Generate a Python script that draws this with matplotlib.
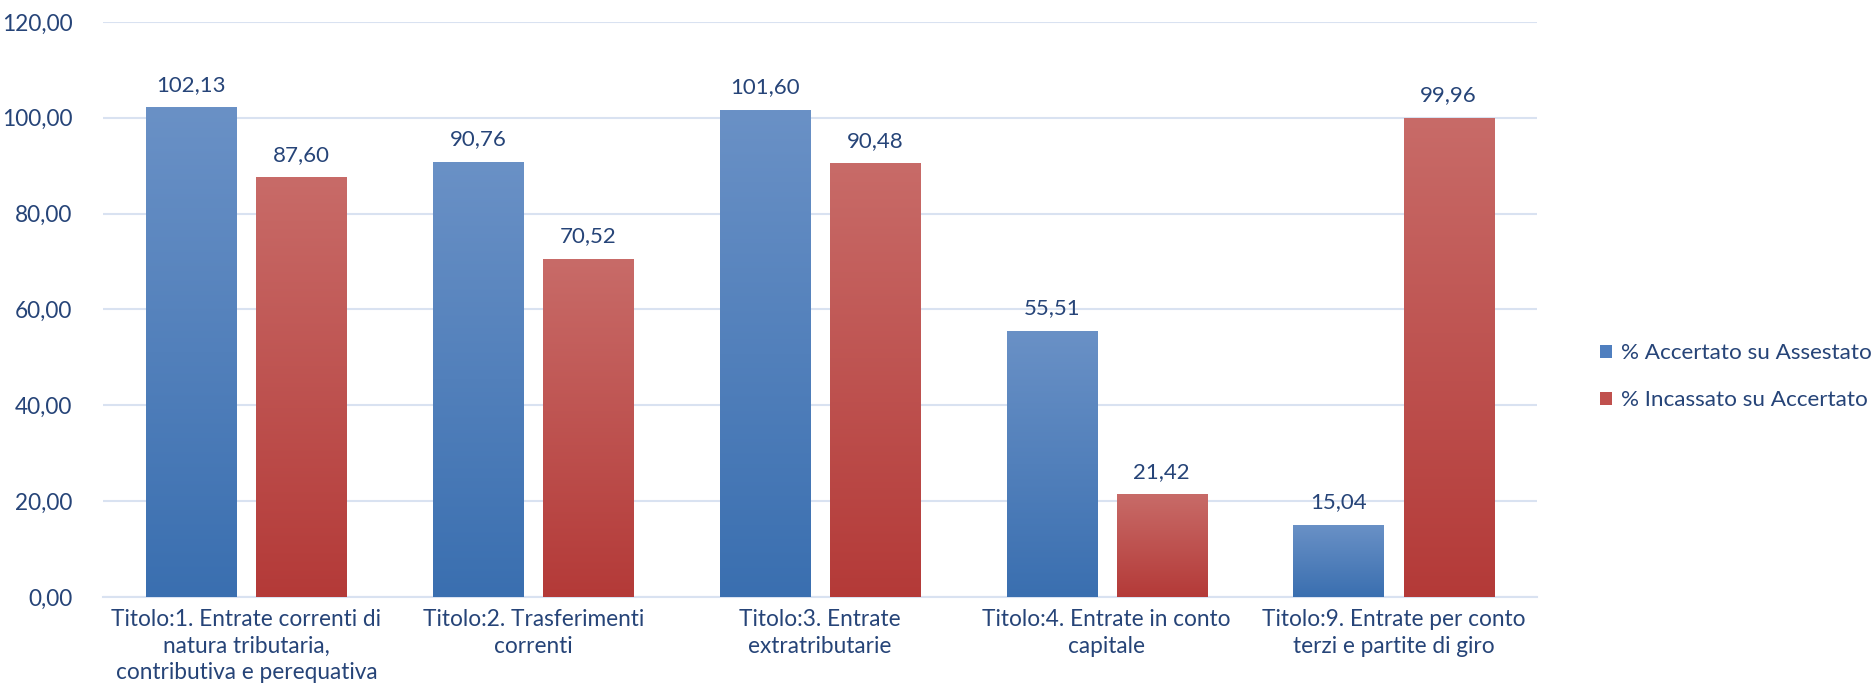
import matplotlib
matplotlib.use("Agg")
import matplotlib.pyplot as plt
import numpy as np
from matplotlib.colors import LinearSegmentedColormap
from matplotlib.patches import Patch

plt.rcParams['font.family'] = ['Lato', 'DejaVu Sans']

categories = [
    "Titolo:1. Entrate correnti di\nnatura tributaria,\ncontributiva e perequativa",
    "Titolo:2. Trasferimenti\ncorrenti",
    "Titolo:3. Entrate\nextratributarie",
    "Titolo:4. Entrate in conto\ncapitale",
    "Titolo:9. Entrate per conto\nterzi e partite di giro",
]
accertato = [102.13, 90.76, 101.60, 55.51, 15.04]
incassato = [87.60, 70.52, 90.48, 21.42, 99.96]
series_names = ["% Accertato su Assestato", "% Incassato su Accertato"]

text_color = "#264478"
grid_color = "#D9E2F1"
blue_top, blue_bot = "#6A91C6", "#3A6FB0"
red_top, red_bot = "#C86B68", "#B43A38"

fig = plt.figure(figsize=(18.72, 6.98), dpi=100)
ax = fig.add_axes([0.055, 0.1447, 0.766, 0.824])

x = np.arange(len(categories))
w = 0.314
off = 0.192

def gradient_bars(xs, vals, top, bot):
    bars = ax.bar(xs, vals, width=w, color="none", edgecolor="none", zorder=3)
    cmap = LinearSegmentedColormap.from_list("g", [bot, top])
    grad = np.linspace(0, 1, 256).reshape(-1, 1)
    for b in bars:
        bx, by = b.get_x(), b.get_y()
        bw, bh = b.get_width(), b.get_height()
        im = ax.imshow(grad, cmap=cmap, aspect="auto", origin="lower",
                       extent=[bx, bx + bw, by, by + bh], zorder=3)
        im.set_clip_path(b)
    return bars

b1 = gradient_bars(x - off, accertato, blue_top, blue_bot)
b2 = gradient_bars(x + off, incassato, red_top, red_bot)

def fmt(v):
    return f"{v:.2f}".replace(".", ",")

for bars, vals in ((b1, accertato), (b2, incassato)):
    for b, v in zip(bars, vals):
        ax.annotate(fmt(v), (b.get_x() + b.get_width() / 2, v),
                    xytext=(0, 9), textcoords="offset points",
                    ha="center", va="bottom", fontsize=16, color=text_color)

ax.set_xlim(-0.5, len(categories) - 0.5)
ax.set_ylim(0, 120)
ax.set_yticks(np.arange(0, 121, 20))
ax.set_yticklabels([fmt(v) for v in np.arange(0, 121, 20)])
ax.set_xticks(x)
ax.set_xticklabels(categories, linespacing=1.3)
ax.tick_params(axis="both", length=0, labelsize=16.3, labelcolor=text_color)
ax.tick_params(axis="y", pad=22)
ax.tick_params(axis="x", pad=9)
ax.grid(axis="y", color=grid_color, linewidth=1.5, zorder=0)
ax.set_axisbelow(True)
for s in ("top", "right", "left"):
    ax.spines[s].set_visible(False)
ax.spines["bottom"].set_color(grid_color)
ax.spines["bottom"].set_linewidth(1.5)

handles = [Patch(facecolor="#4F7FBF"), Patch(facecolor="#C0504D")]
leg = fig.legend(handles, series_names, loc="center left",
                 bbox_to_anchor=(0.8475, 0.46), frameon=False,
                 fontsize=16.2, handlelength=0.55, handleheight=0.55,
                 handletextpad=0.4, labelspacing=1.2, borderaxespad=0.2)
for t in leg.get_texts():
    t.set_color(text_color)

fig.savefig("out.png", dpi=100, facecolor="white")
